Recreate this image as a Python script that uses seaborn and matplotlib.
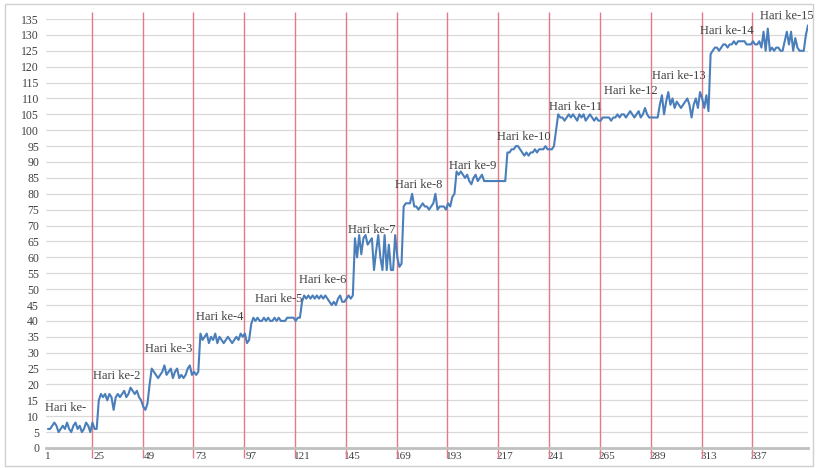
import matplotlib
matplotlib.use("Agg")
import matplotlib.pyplot as plt
import seaborn as sns
import pandas as pd

# hourly readings, 24 per day
day1 = [6, 6, 7, 8, 7, 5, 6, 7, 6, 8, 6, 5, 7, 8, 6, 7, 5, 6, 8, 7, 5, 8, 6, 6]
day2 = [15, 17, 16, 17, 15, 17, 16, 12, 16, 17, 16, 17, 18, 16, 17, 19, 18, 17, 18, 16, 15, 13, 12, 14]
day3 = [20, 25, 24, 23, 22, 23, 24, 26, 23, 24, 25, 22, 24, 25, 22, 23, 22, 23, 25, 26, 23, 24, 23, 24]
day4 = [36, 34, 35, 36, 33, 35, 34, 36, 33, 35, 34, 33, 34, 35, 34, 33, 34, 35, 34, 36, 35, 36, 33, 34]
day5 = [39, 41, 40, 41, 40, 40, 41, 40, 41, 40, 40, 41, 40, 41, 40, 40, 40, 41, 41, 41, 41, 40, 41, 41]
day6 = [46, 48, 47, 48, 47, 48, 47, 48, 47, 48, 47, 48, 47, 46, 45, 46, 45, 47, 48, 46, 46, 47, 48, 47]
day7 = [48, 66, 60, 67, 61, 66, 67, 64, 65, 66, 56, 62, 67, 60, 56, 67, 56, 64, 56, 56, 67, 60, 57, 58]
day8 = [76, 77, 77, 77, 80, 76, 76, 75, 76, 77, 76, 76, 75, 76, 77, 80, 75, 76, 76, 76, 75, 77, 76, 79]
day9 = [80, 87, 86, 87, 86, 85, 86, 84, 83, 85, 86, 84, 85, 86, 84, 84, 84, 84, 84, 84, 84, 84, 84, 84]
day10 = [84, 93, 93, 94, 94, 95, 95, 94, 93, 92, 93, 92, 93, 93, 94, 93, 94, 94, 94, 95, 94, 94, 94, 95]
day11 = [100, 105, 104, 104, 103, 104, 105, 104, 105, 104, 103, 105, 104, 105, 103, 104, 105, 104, 103, 104, 103, 103, 104, 104]
day12 = [104, 104, 103, 104, 104, 105, 104, 105, 105, 104, 105, 106, 105, 104, 105, 106, 104, 105, 107, 105, 104, 104, 104, 104]
day13 = [104, 108, 111, 105, 109, 112, 108, 110, 107, 109, 108, 107, 108, 109, 110, 108, 104, 108, 110, 107, 112, 110, 107, 111]
day14 = [106, 124, 125, 126, 126, 125, 126, 127, 127, 126, 127, 127, 128, 127, 128, 128, 128, 128, 127, 127, 127, 128, 127, 127]
day15 = [128, 126, 131, 125, 132, 125, 126, 125, 126, 126, 125, 125, 128, 131, 127, 131, 125, 129, 126, 125, 125, 125, 130, 133]

days = [day1, day2, day3, day4, day5, day6, day7, day8, day9, day10,
        day11, day12, day13, day14, day15]

values = [v for d in days for v in d]
hours = list(range(1, len(values) + 1))
df = pd.DataFrame({"jam": hours, "nilai": values})

x_ticks = list(range(1, 361, 24))
y_ticks = list(range(0, 136, 5))
day_labels = ["Hari ke-"] + ["Hari ke-%d" % k for k in range(2, 16)]

# where each day label sits (left edge, vertical centre)
label_pos = [(-0.4, 12.7), (22.3, 22.7), (46.8, 31.2), (70.9, 41.2), (98.6, 46.8),
             (119.6, 53.0), (142.7, 68.6), (164.9, 82.7), (190.4, 88.8), (213.1, 98.0),
             (237.7, 107.4), (263.6, 112.4), (286.3, 117.1), (309.0, 131.3), (337.3, 135.8)]

sns.set_theme(style="white")
plt.rcParams["font.family"] = ["Liberation Serif", "DejaVu Serif"]

fig = plt.figure(figsize=(8.16, 4.68), dpi=100)
ax = fig.add_axes([46 / 816, 20 / 468, 762 / 816, 429 / 468])

# day separators, drawn a little before each day's first hour
ax.vlines([x - 3.3 for x in x_ticks[1:]], -3.2, 137.2, colors="#e47a86",
          lw=1.0, clip_on=False, zorder=1)

sns.lineplot(data=df, x="jam", y="nilai", color="#4a7ebb", lw=1.5, ax=ax, zorder=3)

for txt, (lx, ly) in zip(day_labels, label_pos):
    ax.text(lx, ly, txt, ha="left", va="center", fontsize=9, color="#404040",
            zorder=4, clip_on=False)

ax.set_xlim(0.06, 360)
ax.set_ylim(0, 135)
ax.set_xticks(x_ticks)
ax.set_xticklabels([str(t) for t in x_ticks])
ax.set_yticks(y_ticks)
ax.set_yticklabels([str(t) for t in y_ticks])
ax.set_xlabel("")
ax.set_ylabel("")
ax.yaxis.grid(True, color="#d9d9d9", lw=0.9)
ax.xaxis.grid(False)
for s in ["top", "right", "left"]:
    ax.spines[s].set_visible(False)
ax.spines["bottom"].set_color("#c0c0c0")
ax.spines["bottom"].set_linewidth(2)
ax.tick_params(axis="y", length=0, labelsize=8.5, colors="#404040", pad=5)
ax.tick_params(axis="x", length=0, labelsize=8, colors="#404040", pad=3)

fig.patches.append(plt.Rectangle((5 / 816, 2 / 468), 808 / 816, 462 / 468,
                                 transform=fig.transFigure, fill=False,
                                 edgecolor="#d0d0d0", lw=1))

fig.savefig("out.png", dpi=100)
